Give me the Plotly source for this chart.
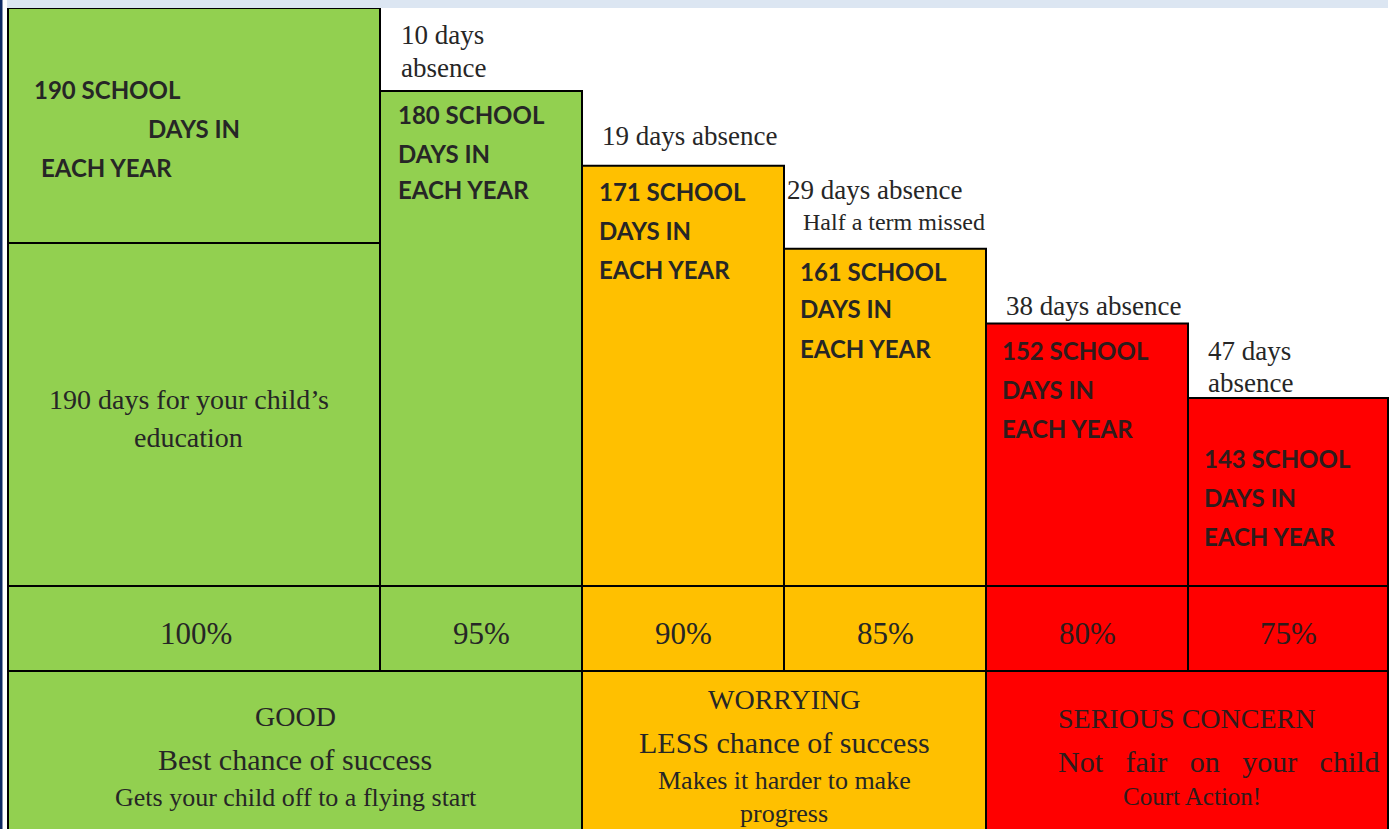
import plotly.graph_objects as go

# ---------------- data ----------------
DAYS = [190, 180, 171, 161, 152, 143]
ABSENCE = [0, 10, 19, 29, 38, 47]
PCT_LABELS = ["100%", "95%", "90%", "85%", "80%", "75%"]
COL_BAND = [0, 0, 1, 1, 2, 2]
BAND_TITLES = ["GOOD", "WORRYING", "SERIOUS CONCERN"]
BAND_LINE2 = ["Best chance of success", "LESS chance of success",
              "Not\u00a0\u00a0\u00a0fair\u00a0\u00a0\u00a0on\u00a0\u00a0\u00a0your\u00a0\u00a0\u00a0child"]
BAND_LINE3 = [["Gets your child off to a flying start"],
              ["Makes it harder to make", "progress"],
              ["Court Action!"]]
DAY_LABEL_LINES = ["{} SCHOOL", "DAYS IN", "EACH YEAR"]
FIRST_COL_NOTE = ["190 days for your child\u2019s", "education"]

# ---------------- layout / style ----------------
W, H = 1390, 829
LEFT = 8
COL_W = [372, 202, 202, 202, 202, 200]
BAND_COLORS = ["#92D050", "#FFC000", "#FF0000"]
TXT = "#262626"
TXT_RED = "#2E1C1C"
SERIF = "Liberation Serif"
SANS = "Lato"
BAR_BOTTOM_PX = 586
PCT_BOTTOM_PX = 671
# linear y-scale: 190 days at 8px, 8.3 px per day
PX_PER_DAY = 8.3
Y_TOP = DAYS[0] + 8 / PX_PER_DAY
Y_BOTTOM = DAYS[0] - (BAR_BOTTOM_PX - 8) / PX_PER_DAY

edges = [LEFT]
for w in COL_W:
    edges.append(edges[-1] + w)
centers = [(edges[i] + edges[i + 1]) / 2 for i in range(len(COL_W))]
col_colors = [BAND_COLORS[b] for b in COL_BAND]


def py(px):
    return 1 - px / H


fig = go.Figure()
fig.add_trace(go.Bar(
    x=centers, y=DAYS, width=COL_W,
    marker=dict(color=col_colors, line=dict(color="black", width=2)),
    hoverinfo="skip", showlegend=False,
))

shapes = []
# percentage row
for i in range(len(COL_W)):
    shapes.append(dict(type="rect", xref="x", yref="paper",
                       x0=edges[i], x1=edges[i + 1],
                       y0=py(PCT_BOTTOM_PX), y1=py(BAR_BOTTOM_PX),
                       fillcolor=col_colors[i], line=dict(color="black", width=2),
                       layer="above"))
# band row
for b in range(3):
    cols = [i for i in range(len(COL_W)) if COL_BAND[i] == b]
    shapes.append(dict(type="rect", xref="x", yref="paper",
                       x0=edges[cols[0]], x1=edges[cols[-1] + 1],
                       y0=py(H + 20), y1=py(PCT_BOTTOM_PX),
                       fillcolor=BAND_COLORS[b], line=dict(color="black", width=2),
                       layer="above"))
# divider inside first column
shapes.append(dict(type="line", xref="x", yref="paper", x0=edges[0], x1=edges[1],
                   y0=py(243), y1=py(243), line=dict(color="black", width=2)))
# top strip and left navy border
shapes.append(dict(type="rect", xref="x", yref="paper", x0=7, x1=edges[-1],
                   y0=py(8), y1=1.01, fillcolor="#DCE6F2", line=dict(width=0)))
shapes.append(dict(type="rect", xref="x", yref="paper", x0=-1, x1=2.5,
                   y0=-0.01, y1=1.01, fillcolor="#0E2A63", line=dict(width=0)))

ann = []


def add(text, x, ypx, size, family=SERIF, color=TXT, xanchor="left", bold=False):
    ann.append(dict(text=("<b>%s</b>" % text) if bold else text, x=x, y=py(ypx),
                    xref="x", yref="paper", xanchor=xanchor, yanchor="middle",
                    showarrow=False, font=dict(family=family, size=size, color=color)))


# bold school-days labels
label_pos = [
    [(32, 90), (146, 129), (39, 167)],
    [(396, 114), (396, 153), (396, 190)],
    [(597, 192), (597, 231), (597, 269)],
    [(798, 271), (798, 309), (798, 348)],
    [(1000, 350), (1000, 389), (1000, 428)],
    [(1202, 458), (1202, 497), (1202, 536)],
]
for i, d in enumerate(DAYS):
    c = TXT_RED if COL_BAND[i] == 2 else TXT
    for j, line in enumerate(DAY_LABEL_LINES):
        x, y = label_pos[i][j]
        add(line.format(d), x, y, 24, family=SANS, color=c, bold=True)

# first column note
add(FIRST_COL_NOTE[0], 189, 399, 28, xanchor="center")
add(FIRST_COL_NOTE[1], 188, 437, 28, xanchor="center")

# absence notes
add("%d days" % ABSENCE[1], 399, 35, 27)
add("absence", 399, 68, 27)
add("%d days absence" % ABSENCE[2], 600, 136, 27)
add("%d days absence" % ABSENCE[3], 785, 190, 27)
add("Half a term missed", 801, 222, 24)
add("%d days absence" % ABSENCE[4], 1004, 306, 27)
add("%d days" % ABSENCE[5], 1206, 351, 27)
add("absence", 1206, 383, 27)

# percentage row
for i, p in enumerate(PCT_LABELS):
    c = TXT_RED if COL_BAND[i] == 2 else TXT
    add(p, centers[i] + (2 if i == 0 else 0), 633, 31, color=c, xanchor="center")

# band row
band_layout = [
    dict(cx=295, t=716, l2=(295, 759), l3=[(296, 797)]),
    dict(cx=784, t=699, l2=(784, 742), l3=[(784, 780), (784, 813)]),
    dict(cx=1186, t=718, l2=(1219, 761), l3=[(1192, 796)]),
]
for b in range(3):
    c = TXT_RED if b == 2 else TXT
    L = band_layout[b]
    add(BAND_TITLES[b], L["cx"], L["t"], 28, color=c, xanchor="center")
    add(BAND_LINE2[b], L["l2"][0], L["l2"][1], 30, color=c, xanchor="center")
    for line, (x, y) in zip(BAND_LINE3[b], L["l3"]):
        add(line, x, y, 26 if b < 2 else 25, color=c, xanchor="center")

fig.update_layout(
    width=W, height=H,
    margin=dict(l=0, r=0, t=0, b=0),
    paper_bgcolor="white", plot_bgcolor="white",
    xaxis=dict(range=[0, W], visible=False, fixedrange=True),
    yaxis=dict(range=[Y_BOTTOM, Y_TOP], domain=[py(BAR_BOTTOM_PX), 1],
               visible=False, fixedrange=True),
    shapes=shapes, annotations=ann, showlegend=False,
)
fig.write_html("out.html", config={"displayModeBar": False},
               post_script="document.body.style.margin='0';document.body.style.overflow='hidden';")
